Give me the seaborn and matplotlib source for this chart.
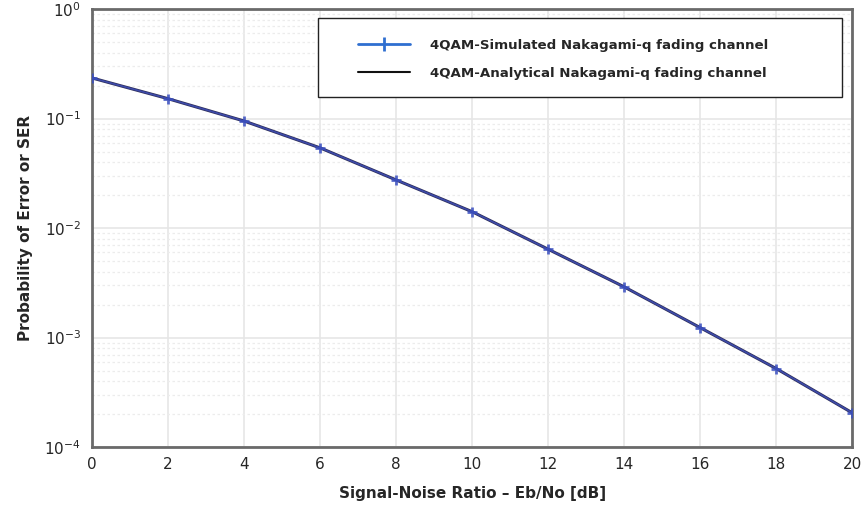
import numpy as np
import pandas as pd
import matplotlib
matplotlib.use("Agg")
import matplotlib.pyplot as plt
import seaborn as sns
from matplotlib.ticker import LogLocator, NullFormatter
from matplotlib.patches import Rectangle
from matplotlib.lines import Line2D

# ---- data ----
snr_db = [0, 2, 4, 6, 8, 10, 12, 14, 16, 18, 20]
ser_simulated = [0.235, 0.152, 0.095, 0.054, 0.0275, 0.0141, 0.0064, 0.0029, 0.00123, 0.00052, 0.000205]
ser_analytical = [0.235, 0.152, 0.095, 0.054, 0.0275, 0.0141, 0.0064, 0.0029, 0.00123, 0.00052, 0.000205]
x_ticks = [0, 2, 4, 6, 8, 10, 12, 14, 16, 18, 20]
label_sim = "4QAM-Simulated Nakagami-q fading channel"
label_ana = "4QAM-Analytical Nakagami-q fading channel"
x_label = "Signal-Noise Ratio – Eb/No [dB]"
y_label = "Probability of Error or SER"

df_sim = pd.DataFrame({"snr": snr_db, "ser": ser_simulated})
df_ana = pd.DataFrame({"snr": snr_db, "ser": ser_analytical})

sns.set_style("white")
plt.rcParams["font.family"] = ["DejaVu Sans"]
plt.rcParams["axes.unicode_minus"] = False

fig = plt.figure(figsize=(8.61, 5.08), dpi=100)
ax = fig.add_axes([0.107, 0.12, 0.883, 0.862])

sns.lineplot(data=df_ana, x="snr", y="ser", ax=ax, color="#2e2e58", linewidth=2.2,
             legend=False, zorder=3)
sns.lineplot(data=df_sim, x="snr", y="ser", ax=ax, color="#4050b8", linewidth=1.2,
             marker="+", markersize=7, markeredgewidth=2, markeredgecolor="#3a4fc0",
             alpha=0.85, legend=False, zorder=4)

ax.set_yscale("log")
ax.set_xlim(0, 20)
ax.set_ylim(1e-4, 1)
ax.set_xticks(x_ticks)
ax.set_xticklabels([str(t) for t in x_ticks])
ax.yaxis.set_major_locator(LogLocator(base=10, numticks=10))
ax.yaxis.set_minor_locator(LogLocator(base=10, subs=np.arange(2, 10), numticks=50))
ax.yaxis.set_minor_formatter(NullFormatter())

ax.grid(True, which="major", axis="both", color="#e6e6e6", linewidth=1.2, linestyle="-")
ax.grid(True, which="minor", axis="y", color="#ececec", linewidth=0.9, linestyle=(0, (2, 2)))

ax.tick_params(axis="both", which="both", direction="in", color="#555555")
ax.tick_params(axis="y", which="major", length=5, width=1, labelsize=11, pad=8)
ax.tick_params(axis="y", which="minor", length=3, width=1)
ax.tick_params(axis="x", which="major", length=4, width=1, labelsize=11, pad=7)

for s in ax.spines.values():
    s.set_visible(True)
    s.set_color("#6a6a6a")
    s.set_linewidth(2)

ax.set_xlabel(x_label, fontsize=11, fontweight="bold", labelpad=10)
ax.set_ylabel(y_label, fontsize=11, fontweight="bold", labelpad=8)

# legend box drawn as a rectangle, entries placed inside it
box = Rectangle((0.297, 0.799), 0.689, 0.180, transform=ax.transAxes,
                facecolor="white", edgecolor="#222222", linewidth=1.0, zorder=5)
ax.add_patch(box)

proxy_sim = Line2D([], [], color="#2f6fd0", linewidth=2, marker="|",
                   markersize=10, markeredgewidth=2)
proxy_ana = Line2D([], [], color="#111111", linewidth=1.5)
leg = ax.legend([proxy_sim, proxy_ana], [label_sim, label_ana],
                loc="upper left", bbox_to_anchor=(0.35, 0.932),
                borderaxespad=0, borderpad=0, frameon=False,
                handlelength=3.9, handletextpad=1.5, labelspacing=1.1,
                prop={"weight": "bold", "size": 9.6})
leg.set_zorder(6)

fig.savefig("out.png", dpi=100)
